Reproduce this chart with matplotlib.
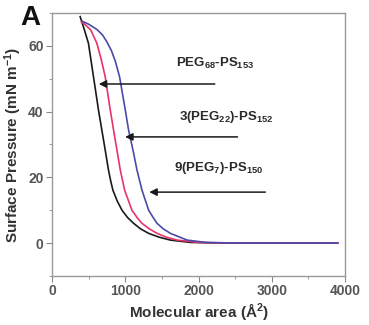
import matplotlib

matplotlib.use("Agg")
import matplotlib.pyplot as plt  # noqa: E402
from matplotlib.ticker import MultipleLocator  # noqa: E402

plt.rcParams["font.family"] = ["Liberation Sans", "DejaVu Sans"]
plt.rcParams["font.weight"] = "bold"
plt.rcParams["axes.labelweight"] = "bold"
plt.rcParams["mathtext.fontset"] = "custom"
plt.rcParams["mathtext.bf"] = "Liberation Sans:bold"
plt.rcParams["mathtext.rm"] = "Liberation Sans:bold"
plt.rcParams["mathtext.default"] = "bf"

# isotherms: molecular area (A^2) vs surface pressure (mN/m)
peg68_x = [384, 440, 497, 566, 634, 680, 726, 771, 800, 831, 890, 955, 1030,
           1114, 1210, 1319, 1460, 1616, 1890, 2300, 3900]
peg68_y = [68.9, 65.0, 60.8, 50.6, 40.5, 34.4, 28.3, 22.2, 19.0, 16.1, 12.8,
           10.0, 7.8, 6.0, 4.3, 2.95, 1.8, 0.9, 0.2, 0.0, 0.0]

peg22_x = [400, 460, 529, 612, 670, 726, 795, 840, 886, 932, 991, 1091, 1160,
           1228, 1330, 1434, 1560, 1708, 2000, 2400, 3900]
peg22_y = [67.3, 66.3, 64.8, 60.8, 56.0, 50.6, 40.5, 34.4, 28.3, 22.2, 16.1,
           10.0, 7.8, 6.0, 4.3, 2.95, 1.8, 0.9, 0.2, 0.0, 0.0]

peg7_x = [410, 500, 612, 690, 749, 810, 863, 922, 1000, 1045, 1105, 1160, 1228,
          1319, 1380, 1434, 1520, 1616, 1845, 2100, 2500, 3900]
peg7_y = [67.5, 66.6, 65.0, 63.3, 61.2, 58.6, 55.4, 50.6, 40.5, 34.4, 28.3,
          22.2, 16.1, 10.0, 7.8, 6.0, 4.3, 2.95, 0.9, 0.2, 0.0, 0.0]

labels = [r"PEG$_{68}$-PS$_{153}$", r"3(PEG$_{22}$)-PS$_{152}$",
          r"9(PEG$_{7}$)-PS$_{150}$"]
label_xy = [(1690, 52.3), (1740, 36.0), (1670, 20.3)]
arrow_tail = [(2260, 48.4), (2570, 32.3), (2950, 15.5)]
arrow_tip = [(600, 48.4), (960, 32.3), (1290, 15.5)]

fig = plt.figure(figsize=(3.69, 3.25), dpi=100)
ax = fig.add_axes([0.141, 0.151, 0.794, 0.809])

ax.plot(peg68_x, peg68_y, color="#1a1a1a", lw=1.2)
ax.plot(peg22_x, peg22_y, color="#e8336a", lw=1.2)
ax.plot(peg7_x, peg7_y, color="#4a4aa8", lw=1.2)

for lab, (lx, ly), tail, tip in zip(labels, label_xy, arrow_tail, arrow_tip):
    ax.text(lx, ly, lab, fontsize=9.5, color="#2a2a2a", ha="left",
            va="bottom")
    ax.annotate("", xy=tip, xytext=tail,
                arrowprops=dict(arrowstyle="-|>", lw=1.1, color="#1a1a1a",
                                mutation_scale=11))

ax.set_xlim(0, 4000)
ax.set_ylim(-10, 70)
ax.set_xticks([0, 1000, 2000, 3000, 4000])
ax.set_yticks([0, 20, 40, 60])
ax.xaxis.set_minor_locator(MultipleLocator(500))
ax.yaxis.set_minor_locator(MultipleLocator(10))
ax.tick_params(which="both", direction="out", colors="#888888",
               labelcolor="#555555", labelsize=10)
ax.tick_params(which="major", length=4, pad=2)
ax.tick_params(which="minor", length=2)
for s in ax.spines.values():
    s.set_color("#999999")
    s.set_linewidth(1.0)

ax.set_xlabel("Molecular area (Å$^{2}$)", fontsize=11, color="#333333",
              labelpad=2)
ax.set_ylabel("Surface Pressure (mN m$^{-1}$)", fontsize=11,
              color="#333333", labelpad=3)
fig.text(0.055, 0.985, "A", fontsize=20, fontweight="bold", ha="left",
         va="top", color="#111111")

fig.savefig("out.png", dpi=100)
